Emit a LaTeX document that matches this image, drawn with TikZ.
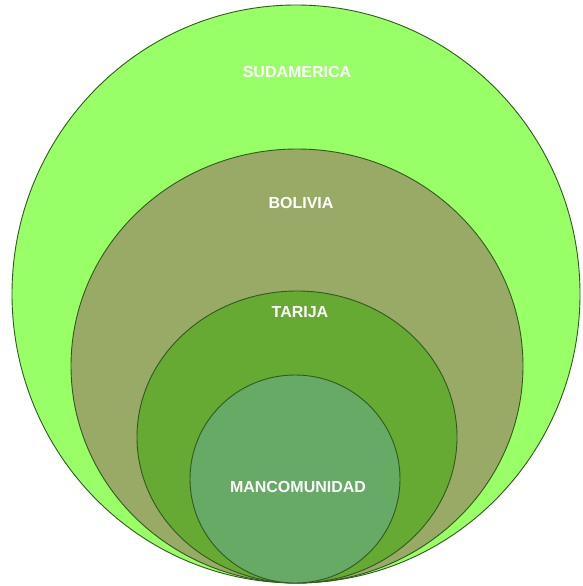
\documentclass[tikz,border=0pt]{standalone}
\usepackage{fontspec}
\setmainfont{Liberation Sans}
\begin{document}
\begin{tikzpicture}[x=1pt,y=-1pt,
  ring/.style={draw=cEdge, line width=0.9pt},
  lbl/.style={text=white, font=\bfseries\fontsize{16}{18}\selectfont, inner sep=0pt}]
\definecolor{cSud}{HTML}{99FF66}
\definecolor{cBol}{HTML}{99AA66}
\definecolor{cTar}{HTML}{66AA33}
\definecolor{cMan}{HTML}{66AA66}
\definecolor{cEdge}{HTML}{2F5A1E}
\useasboundingbox (0,0) rectangle (583,586);
\path[ring, fill=cSud] (296,294) ellipse [x radius=284, y radius=289];
\path[ring, fill=cBol] (297,366) ellipse [x radius=226, y radius=217];
\path[ring, fill=cTar] (297,437) ellipse [x radius=160, y radius=146];
\path[ring, fill=cMan] (295,479) ellipse [x radius=105, y radius=104];
\node[lbl] (sud) at (297,72) {SUDAMERICA};
\node[lbl] (bol) at (301,203) {BOLIVIA};
\node[lbl] (tar) at (300,312) {TARIJA};
\node[lbl] (man) at (298,487) {MANCOMUNIDAD};
\end{tikzpicture}
\end{document}
